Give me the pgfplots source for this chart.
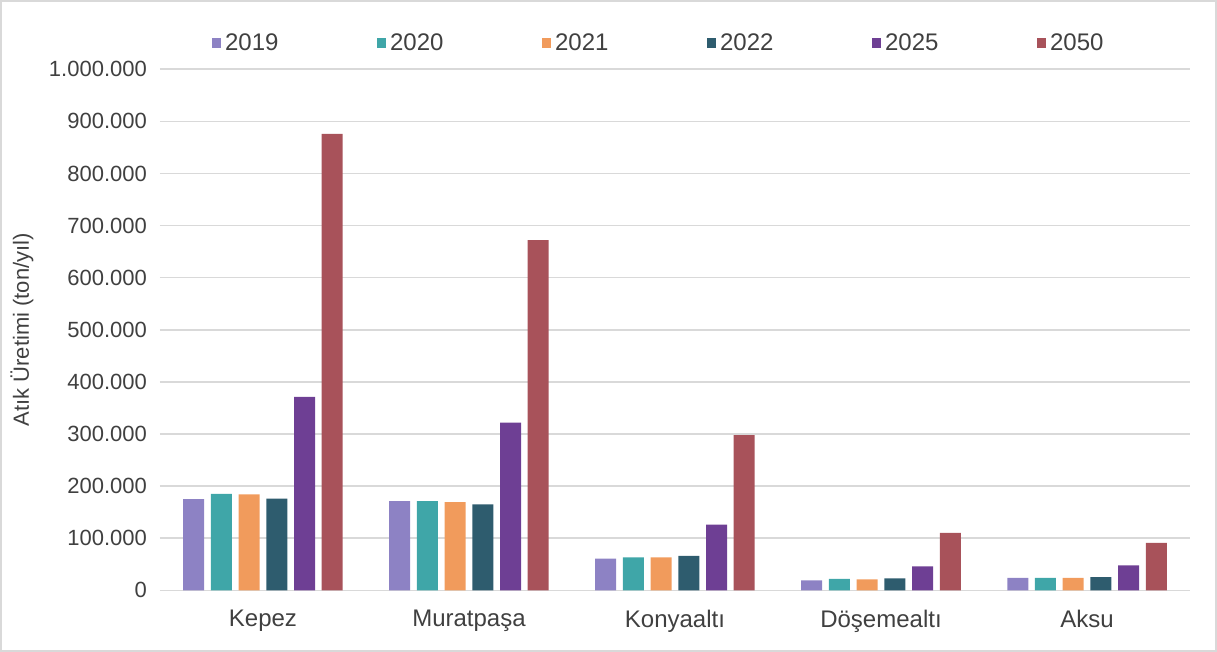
\documentclass[border=0pt]{standalone}
\usepackage{fontspec}
\setmainfont{Liberation Sans}
\usepackage{pgfplots}
\pgfplotsset{compat=1.18}

\definecolor{cA}{HTML}{8D82C4}
\definecolor{cB}{HTML}{3FA6A8}
\definecolor{cC}{HTML}{F19B5C}
\definecolor{cD}{HTML}{2E5C6E}
\definecolor{cE}{HTML}{6E3F94}
\definecolor{cF}{HTML}{A8525A}
\definecolor{txt}{HTML}{404040}
\definecolor{gridc}{HTML}{D9D9D9}

\begin{document}
\begin{tikzpicture}
\begin{axis}[
  scale only axis,
  width=515pt, height=260.5pt,
  ybar=3.35pt, bar width=10.5pt,
  xmin=-0.5, xmax=4.5,
  ymin=0, ymax=1000000,
  ytick distance=100000,
  scaled y ticks=false,
  xtick=data,
  xticklabels={Kepez,Muratpaşa,Konyaaltı,Döşemealtı,Aksu},
  /pgf/number format/fixed,
  /pgf/number format/1000 sep={.},
  /pgf/number format/assume math mode=true,
  yticklabel style={font=\fontsize{11}{13}\selectfont, text=txt, xshift=-3pt},
  xticklabel style={font=\fontsize{12}{14}\selectfont, text=txt, yshift=-6.5pt},
  major tick length=0pt,
  axis line style={draw=none},
  ymajorgrids, xmajorgrids=false, grid style={gridc, line width=0.8pt},
  ylabel={Atık Üretimi (ton/yıl)},
  ylabel style={at={(axis description cs:-0.134,0.5)}, anchor=center, font=\fontsize{11}{13}\selectfont, text=txt},
  legend columns=6,
  legend style={at={(axis description cs:0.485,1.05)}, anchor=center, draw=none, fill=none,
    font=\fontsize{12}{14}\selectfont, text=txt,
    /tikz/every even column/.append style={column sep=47pt}},
  legend image code/.code={\fill[#1] (0pt,-2.4pt) rectangle (4.8pt,2.4pt);},
  clip=false,
]
\addplot[fill=cA, draw=none] coordinates {(0,175000)(1,171000)(2,61000)(3,19000)(4,24000)};
\addplot[fill=cB, draw=none] coordinates {(0,185000)(1,171000)(2,63000)(3,22000)(4,24000)};
\addplot[fill=cC, draw=none] coordinates {(0,184000)(1,169000)(2,63000)(3,21000)(4,24000)};
\addplot[fill=cD, draw=none] coordinates {(0,176000)(1,165000)(2,66000)(3,23000)(4,25500)};
\addplot[fill=cE, draw=none] coordinates {(0,371000)(1,322000)(2,126000)(3,46000)(4,48000)};
\addplot[fill=cF, draw=none] coordinates {(0,876000)(1,672000)(2,298000)(3,110000)(4,91000)};
\legend{2019,2020,2021,2022,2025,2050}
\draw[black!15, line width=0.8pt] (axis description cs:-0.1545,-0.1160) rectangle (axis description cs:1.0254,1.1314);
\end{axis}
\end{tikzpicture}
\end{document}
